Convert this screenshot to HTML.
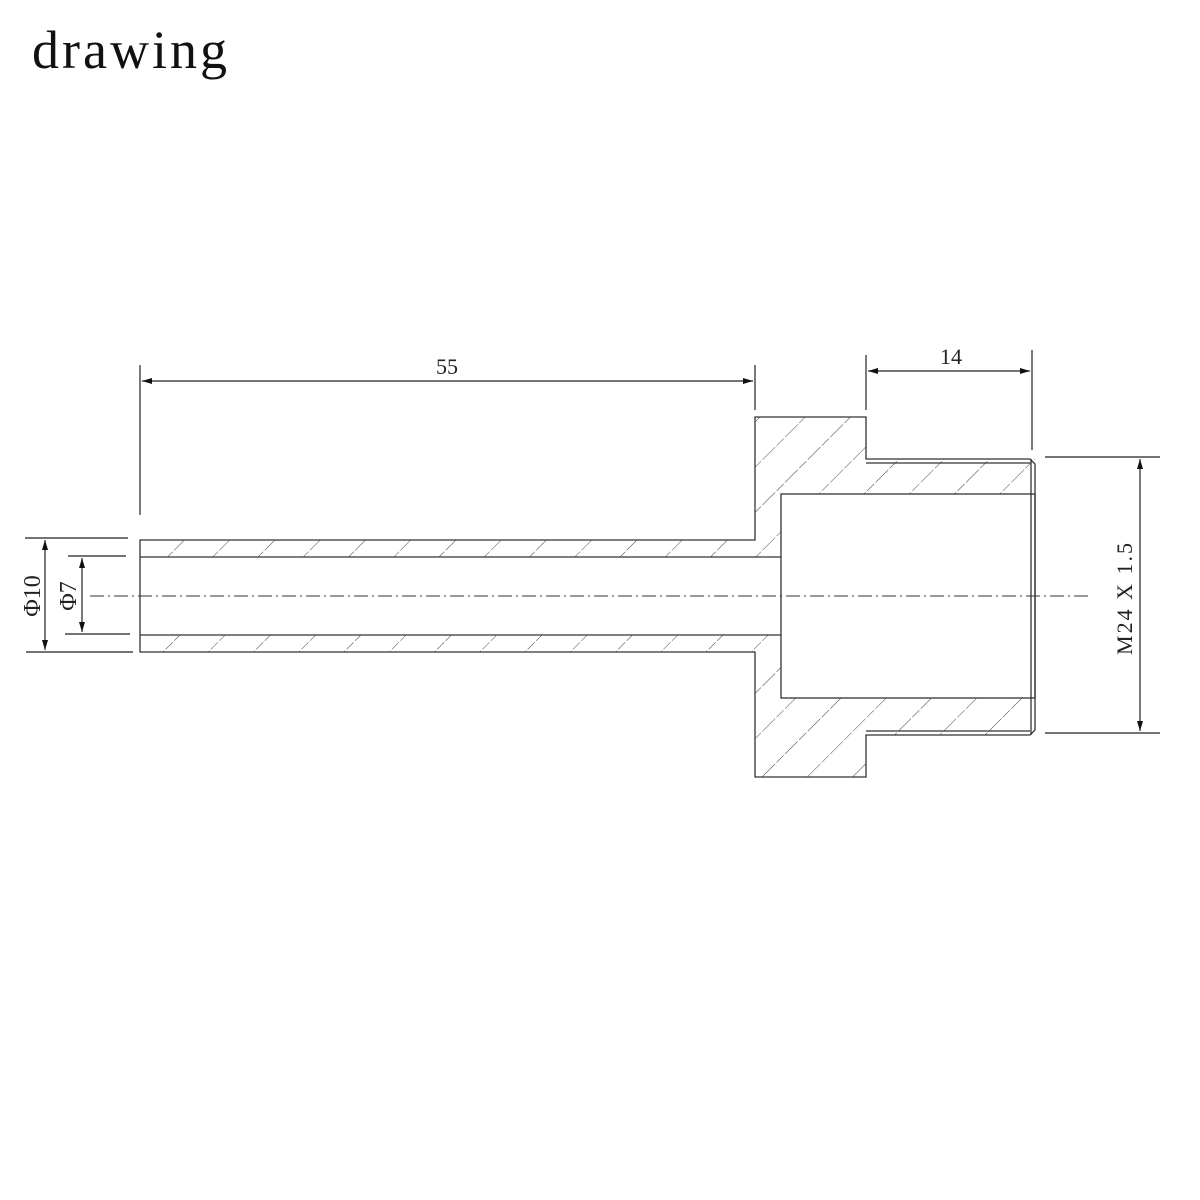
<!DOCTYPE html>
<html><head><style>body{margin:0;background:#fff}svg{display:block}</style></head><body>
<svg width="1200" height="1200" viewBox="0 0 1200 1200" xmlns="http://www.w3.org/2000/svg">
<defs>
<pattern id="h" patternUnits="userSpaceOnUse" width="32" height="32" patternTransform="rotate(45)">
<line x1="0" y1="0" x2="0" y2="32" stroke="#444" stroke-width="1" stroke-dasharray="10,2"/>
</pattern>
<marker id="a" viewBox="0 0 10 10" refX="10" refY="5" markerWidth="18" markerHeight="10" markerUnits="userSpaceOnUse" orient="auto-start-reverse"><path d="M0,2 L10,5 L0,8 z" fill="#111"/></marker>
</defs>
<text x="32" y="68" font-family="Liberation Serif, serif" font-size="54" letter-spacing="3" fill="#111">drawing</text>
<g fill="url(#h)" stroke="none">
<rect x="140" y="540" width="615" height="17"/>
<rect x="140" y="635" width="615" height="17"/>
<path d="M755,417 H866 V459 H1035 V494 H781 V557 H755 Z"/>
<path d="M755,777 H866 V735 H1035 V698 H781 V635 H755 Z"/>
</g>
<g fill="none" stroke="#333" stroke-width="1.3">
<path d="M140,540 H755 V417 H866 V459 H1030 L1035,464 V730 L1030,735 H866 V777 H755 V652 H140 Z"/>
<line x1="140" y1="557" x2="781" y2="557"/>
<line x1="140" y1="635" x2="781" y2="635"/>
<rect x="781" y="494" width="254" height="204"/>
<line x1="866" y1="463" x2="1030" y2="463"/>
<line x1="866" y1="731" x2="1030" y2="731"/>
<line x1="1031" y1="459" x2="1031" y2="735"/>
</g>
<line x1="90" y1="596" x2="1090" y2="596" stroke="#333" stroke-width="1" stroke-dasharray="14,4,2,4"/>
<g stroke="#222" stroke-width="1.2" fill="none">
<line x1="140" y1="365" x2="140" y2="515"/>
<line x1="755" y1="365" x2="755" y2="410"/>
<line x1="142" y1="381" x2="753" y2="381" marker-start="url(#a)" marker-end="url(#a)"/>
<line x1="866" y1="355" x2="866" y2="410"/>
<line x1="1032" y1="350" x2="1032" y2="450"/>
<line x1="868" y1="371" x2="1030" y2="371" marker-start="url(#a)" marker-end="url(#a)"/>
<line x1="1045" y1="457" x2="1160" y2="457"/>
<line x1="1045" y1="733" x2="1160" y2="733"/>
<line x1="1140" y1="459" x2="1140" y2="731" marker-start="url(#a)" marker-end="url(#a)"/>
<line x1="25" y1="538" x2="128" y2="538"/>
<line x1="26" y1="652" x2="133" y2="652"/>
<line x1="45" y1="540" x2="45" y2="650" marker-start="url(#a)" marker-end="url(#a)"/>
<line x1="68" y1="556" x2="126" y2="556"/>
<line x1="65" y1="634" x2="130" y2="634"/>
<line x1="82" y1="558" x2="82" y2="632" marker-start="url(#a)" marker-end="url(#a)"/>
</g>
<g font-family="Liberation Serif, serif" font-size="22" fill="#222" text-anchor="middle">
<text x="447" y="374">55</text>
<text x="951" y="364">14</text>
<text transform="translate(1132,598) rotate(-90)" letter-spacing="2">M24 X 1.5</text>
<text transform="translate(40,596) rotate(-90)" font-size="24">Φ10</text>
<text transform="translate(76,596) rotate(-90)" font-size="24">Φ7</text>
</g>
</svg>
</body></html>
